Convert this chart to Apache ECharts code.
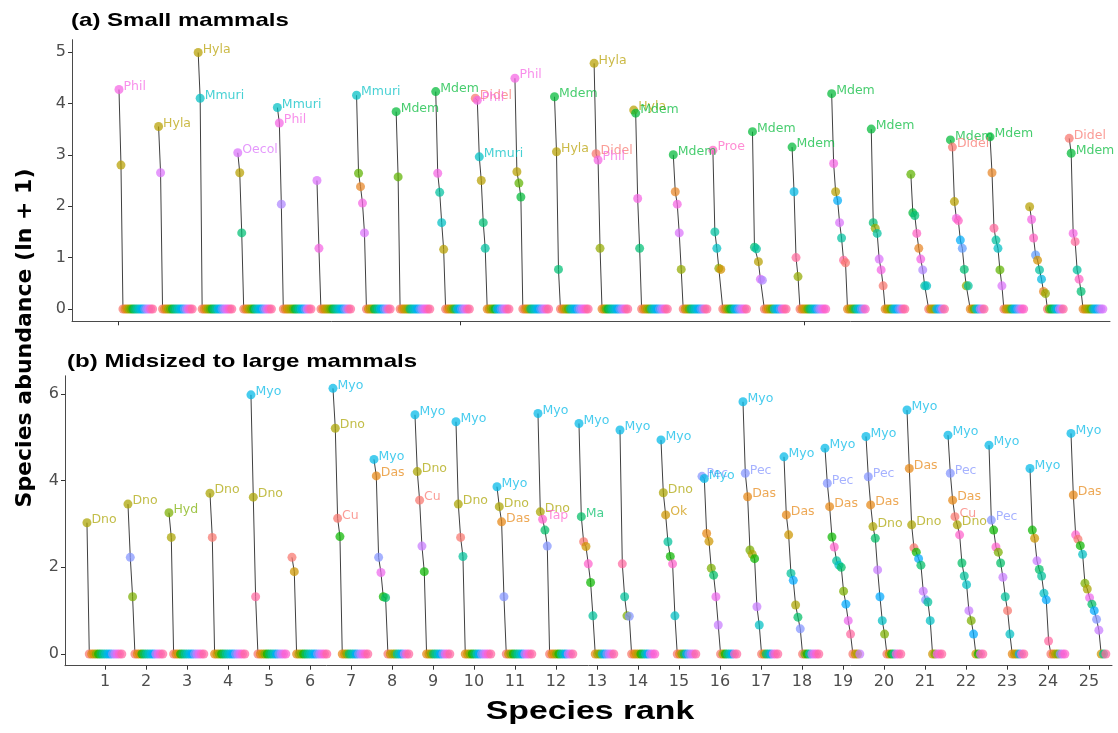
<!DOCTYPE html>
<html><head><meta charset="utf-8">
<script src="https://cdn.jsdelivr.net/npm/echarts@6/dist/echarts.min.js"></script>
<style>html,body{margin:0;padding:0;background:#fff}#c{width:1118px;height:733px}</style>
</head><body><div id="c"></div>
<script>
// ---------- DATA ----------
const speciesA = ['Didel','Cmet','Gmic','Hyla','Lmic','Marm','Mdem','Meta','Micr','Mmuri','Nect','Necr','Neac','Nsqu','Oecol','Phil','Proe','Rhip'];
const sitesA = [
  [['Phil',4.27],['Hyla',2.80]],
  [['Hyla',3.55],['Oecol',2.65]],
  [['Hyla',4.99],['Mmuri',4.10]],
  [['Oecol',3.04],['Hyla',2.65],['Meta',1.48]],
  [['Mmuri',3.92],['Phil',3.62],['Nsqu',2.04]],
  [['Oecol',2.50],['Phil',1.18]],
  [['Mmuri',4.16],['Marm',2.64],['Cmet',2.38],['Phil',2.06],['Oecol',1.48]],
  [['Mdem',3.84],['Marm',2.57]],
  [['Mdem',4.23],['Phil',2.64],['Micr',2.27],['Mmuri',1.68],['Hyla',1.16]],
  [['Didel',4.10],['Phil',4.06],['Mmuri',2.96],['Hyla',2.50],['Meta',1.68],['Micr',1.18]],
  [['Phil',4.49],['Hyla',2.67],['Marm',2.45],['Mdem',2.18]],
  [['Mdem',4.13],['Hyla',3.06],['Meta',0.77]],
  [['Hyla',4.78],['Didel',3.02],['Phil',2.90],['Lmic',1.18]],
  [['Hyla',3.87],['Mdem',3.81],['Phil',2.15],['Meta',1.18]],
  [['Mdem',3.00],['Cmet',2.28],['Phil',2.04],['Oecol',1.48],['Lmic',0.77]],
  [['Proe',3.09],['Micr',1.50],['Mmuri',1.18],['Lmic',0.79],['Gmic',0.77]],
  [['Mdem',3.45],['Meta',1.20],['Micr',1.17],['Hyla',0.92],['Oecol',0.58],['Nsqu',0.56]],
  [['Mdem',3.15],['Nect',2.28],['Rhip',1.00],['Lmic',0.63]],
  [['Mdem',4.19],['Phil',2.83],['Hyla',2.28],['Necr',2.11],['Oecol',1.68],['Micr',1.38],['Rhip',0.95],['Didel',0.90]],
  [['Mdem',3.50],['Meta',1.68],['Lmic',1.57],['Micr',1.47],['Oecol',0.97],['Phil',0.76],['Didel',0.45]],
  [['Marm',2.62],['Mdem',1.87],['Meta',1.82],['Proe',1.47],['Cmet',1.18],['Phil',0.97],['Nsqu',0.76],['Micr',0.45],['Mmuri',0.45]],
  [['Mdem',3.29],['Didel',3.15],['Hyla',2.09],['Phil',1.76],['Proe',1.72],['Necr',1.34],['Neac',1.18],['Meta',0.77],['Lmic',0.45],['Micr',0.45]],
  [['Mdem',3.35],['Cmet',2.65],['Rhip',1.57],['Micr',1.34],['Mmuri',1.18],['Marm',0.76],['Oecol',0.45]],
  [['Hyla',1.99],['Phil',1.74],['Proe',1.38],['Neac',1.05],['Gmic',0.95],['Micr',0.76],['Nect',0.58],['Cmet',0.34],['Lmic',0.30]],
  [['Didel',3.32],['Mdem',3.03],['Phil',1.47],['Rhip',1.31],['Micr',0.76],['Proe',0.58],['Meta',0.34]]
];
const speciesB = ['Cu','Das','Ok','Dno','Hyd','Lpar','Ma','Mgou','Mtri','Myo','Nnas','Pec','Ponc','Pyag','Tap','Tte'];
const sitesB = [
  [['Dno',3.03]],
  [['Dno',3.46],['Pec',2.23],['Hyd',1.32]],
  [['Hyd',3.26],['Dno',2.69]],
  [['Dno',3.71],['Cu',2.69]],
  [['Myo',5.98],['Dno',3.62],['Tte',1.32]],
  [['Cu',2.23],['Ok',1.90]],
  [['Myo',6.13],['Dno',5.21],['Cu',3.13],['Lpar',2.71]],
  [['Myo',4.49],['Das',4.11],['Pec',2.23],['Pyag',1.88],['Lpar',1.32],['Ma',1.30]],
  [['Myo',5.52],['Dno',4.21],['Cu',3.55],['Ponc',2.49],['Lpar',1.90]],
  [['Myo',5.36],['Dno',3.46],['Cu',2.69],['Mgou',2.25]],
  [['Myo',3.86],['Dno',3.40],['Das',3.05],['Pec',1.32]],
  [['Myo',5.55],['Dno',3.28],['Tap',3.11],['Ma',2.86],['Pec',2.49]],
  [['Myo',5.32],['Ma',3.17],['Cu',2.59],['Ok',2.48],['Tap',2.08],['Lpar',1.65],['Mgou',0.88]],
  [['Myo',5.17],['Tte',2.08],['Mgou',1.32],['Hyd',0.88],['Pec',0.87]],
  [['Myo',4.94],['Dno',3.72],['Ok',3.21],['Mgou',2.59],['Lpar',2.25],['Tap',2.08],['Mtri',0.88]],
  [['Pec',4.10],['Myo',4.05],['Das',2.78],['Ok',2.60],['Hyd',1.98],['Ma',1.82],['Pyag',1.32],['Ponc',0.67]],
  [['Myo',5.82],['Pec',4.17],['Das',3.63],['Hyd',2.40],['Dno',2.30],['Lpar',2.20],['Ponc',1.09],['Mtri',0.67]],
  [['Myo',4.55],['Das',3.21],['Ok',2.75],['Mgou',1.86],['Nnas',1.70],['Dno',1.13],['Ma',0.85],['Pec',0.58]],
  [['Myo',4.75],['Pec',3.94],['Das',3.40],['Lpar',2.70],['Tap',2.47],['Mgou',2.15],['Mtri',2.05],['Ma',2.00],['Hyd',1.45],['Nnas',1.15],['Pyag',0.77],['Tte',0.46]],
  [['Myo',5.02],['Pec',4.09],['Das',3.44],['Dno',2.94],['Ma',2.67],['Ponc',1.94],['Nnas',1.32],['Mtri',0.77],['Hyd',0.46]],
  [['Myo',5.63],['Das',4.28],['Dno',2.98],['Cu',2.45],['Lpar',2.35],['Nnas',2.20],['Ma',2.05],['Ponc',1.45],['Pec',1.25],['Mgou',1.20],['Mtri',0.77]],
  [['Myo',5.05],['Pec',4.17],['Das',3.55],['Cu',3.17],['Dno',2.98],['Tap',2.75],['Ma',2.10],['Mgou',1.80],['Mtri',1.60],['Ponc',1.00],['Hyd',0.77],['Nnas',0.46]],
  [['Myo',4.82],['Pec',3.09],['Lpar',2.86],['Tap',2.47],['Hyd',2.35],['Ma',2.10],['Ponc',1.77],['Mgou',1.32],['Cu',1.00],['Mtri',0.46]],
  [['Myo',4.28],['Lpar',2.86],['Ok',2.67],['Ponc',2.15],['Ma',1.95],['Mgou',1.80],['Mtri',1.40],['Nnas',1.25],['Tte',0.30]],
  [['Myo',5.09],['Das',3.67],['Tap',2.75],['Cu',2.65],['Lpar',2.50],['Mtri',2.30],['Hyd',1.63],['Dno',1.50],['Pyag',1.30],['Ma',1.15],['Nnas',1.00],['Pec',0.80],['Ponc',0.55]]
];
const siteTicks = [1,2,3,4,5,6,7,8,9,10,11,12,13,14,15,16,17,18,19,20,21,22,23,24,25];
const yTicksA = [0,1,2,3,4,5];
const yTicksB = [0,2,4,6];
const xTicksA = [0.535, 9.17, 17.88];
const labelMin = 2.88;
const titleA = '(a) Small mammals';
const titleB = '(b) Midsized to large mammals';
const yTitle = 'Species abundance (ln + 1)';
const xTitle = 'Species rank';

// ---------- STYLE HELPERS ----------
function hcl2rgb(h, c, l) {
  const hr = h * Math.PI / 180;
  const U = c * Math.cos(hr), V = c * Math.sin(hr);
  const Xn = 95.047, Yn = 100, Zn = 108.883;
  const den = Xn + 15 * Yn + 3 * Zn;
  const un = 4 * Xn / den, vn = 9 * Yn / den;
  const Y = Yn * (l > 8 ? Math.pow((l + 16) / 116, 3) : l / 903.3);
  const u = U / (13 * l) + un, v = V / (13 * l) + vn;
  const X = Y * 9 * u / (4 * v);
  const Z = Y * (12 - 3 * u - 20 * v) / (4 * v);
  const x = X / 100, y = Y / 100, z = Z / 100;
  const r = 3.240479 * x - 1.537150 * y - 0.498535 * z;
  const g = -0.969256 * x + 1.875992 * y + 0.041556 * z;
  const b = 0.055648 * x - 0.204043 * y + 1.057311 * z;
  const gam = t => { t = t <= 0.0031308 ? 12.92 * t : 1.055 * Math.pow(Math.max(t, 0), 1 / 2.4) - 0.055; return Math.round(Math.max(0, Math.min(1, t)) * 255); };
  return 'rgb(' + gam(r) + ',' + gam(g) + ',' + gam(b) + ')';
}
function huePal(n) { const out = []; for (let i = 0; i < n; i++) out.push(hcl2rgb(15 + i * 360 / n, 100, 65)); return out; }

const FONT = '"DejaVu Sans", "Liberation Sans", sans-serif';
const TFONT = '"Liberation Sans", Arial, sans-serif';
const STRETCH = 1.3;
const SPAN = 0.85, START = 0.44;

function buildPanel(species, sites, idx) {
  const N = species.length, pal = huePal(N), d = SPAN / (N - 1);
  const series = [], pts = [];
  sites.forEach((list, si) => {
    const s = si + 1;
    const present = new Set(list.map(e => e[0]));
    const ordered = list.concat(species.filter(n => !present.has(n)).map(n => [n, 0]));
    series.push({
      type: 'line', xAxisIndex: idx, yAxisIndex: idx, symbol: 'none', silent: true, z: 2,
      lineStyle: { color: '#404040', width: 1 },
      data: ordered.map((e, r) => [s - START + r * d, e[1]])
    });
    ordered.forEach((e, r) => {
      const col = pal[species.indexOf(e[0])];
      pts.push({
        value: [s - START + r * d, e[1]],
        itemStyle: { color: col },
        label: { show: e[1] >= labelMin, formatter: e[0], color: col }
      });
    });
  });
  series.push({
    type: 'scatter', xAxisIndex: idx, yAxisIndex: idx, symbolSize: 9, z: 3,
    itemStyle: { opacity: 0.72 },
    label: { position: 'right', distance: 0, offset: [0, -3], fontSize: 12.5, fontFamily: FONT },
    data: pts
  });
  return series;
}

const axisLineStyle = { onZero: false, lineStyle: { color: '#4a4a4a', width: 1 } };
const tickStyle = { lineStyle: { color: '#333', width: 1 }, length: 4 };
const labStyle = { color: '#4d4d4d', fontSize: 16, fontFamily: FONT };

const option = {
  animation: false,
  backgroundColor: '#fff',
  textStyle: { fontFamily: FONT },
  grid: [
    { left: 72, top: 39.7, width: 1038, height: 281.6 },
    { left: 65, top: 375.8, width: 1047, height: 289.9 }
  ],
  xAxis: [
    { type: 'value', gridIndex: 0, min: -0.627, max: 25.59, splitLine: { show: false },
      axisLine: axisLineStyle, axisTick: Object.assign({ customValues: xTicksA }, tickStyle),
      axisLabel: { show: false } },
    { type: 'value', gridIndex: 1, min: 0.0244, max: 25.56, splitLine: { show: false },
      axisLine: axisLineStyle, axisTick: Object.assign({ customValues: siteTicks }, tickStyle),
      axisLabel: Object.assign({ customValues: siteTicks, margin: 8 }, labStyle) }
  ],
  yAxis: [
    { type: 'value', gridIndex: 0, min: -0.24, max: 5.24, splitLine: { show: false },
      axisLine: axisLineStyle, axisTick: Object.assign({ customValues: yTicksA }, tickStyle),
      axisLabel: Object.assign({ customValues: yTicksA, margin: 6 }, labStyle) },
    { type: 'value', gridIndex: 1, min: -0.27, max: 6.42, splitLine: { show: false },
      axisLine: axisLineStyle, axisTick: Object.assign({ customValues: yTicksB }, tickStyle),
      axisLabel: Object.assign({ customValues: yTicksB, margin: 6 }, labStyle) }
  ],
  graphic: [
    { type: 'text', x: 71, y: 21, scaleX: STRETCH, style: { text: titleA, fill: '#000', font: 'bold 18.5px ' + TFONT, verticalAlign: 'middle' } },
    { type: 'text', x: 67, y: 362, scaleX: STRETCH, style: { text: titleB, fill: '#000', font: 'bold 18.5px ' + TFONT, verticalAlign: 'middle' } },
    { type: 'text', x: 25, y: 338, rotation: Math.PI / 2, style: { text: yTitle, fill: '#000', font: 'bold 22px ' + FONT, align: 'center', verticalAlign: 'middle' } },
    { type: 'text', x: 590, y: 712, scaleX: STRETCH, style: { text: xTitle, fill: '#000', font: 'bold 26px ' + TFONT, align: 'center', verticalAlign: 'middle' } }
  ],
  series: buildPanel(speciesA, sitesA, 0).concat(buildPanel(speciesB, sitesB, 1))
};
echarts.init(document.getElementById('c'), null, { renderer: 'canvas' }).setOption(option);
</script>
</body></html>
